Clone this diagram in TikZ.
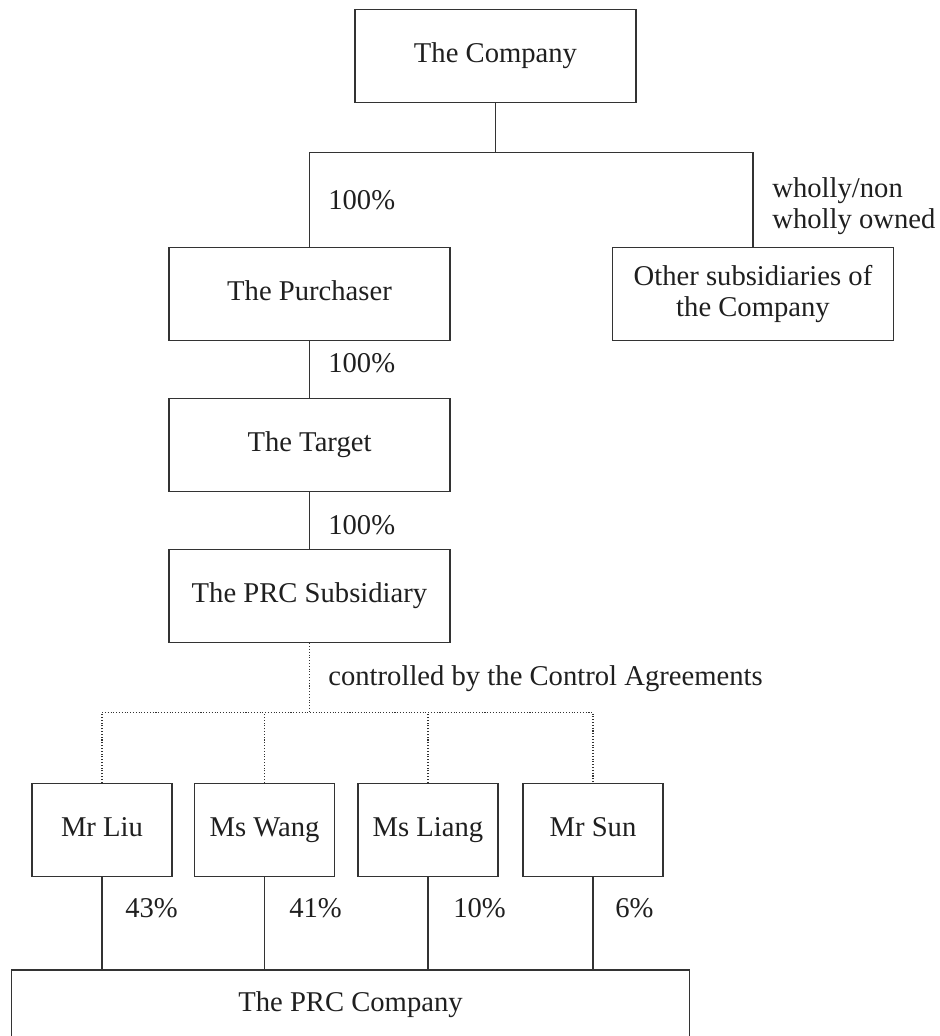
\documentclass[tikz,border=0pt]{standalone}
\usepackage{fontspec}
\setmainfont{Liberation Serif}

\tikzset{
	entity/.style={draw=black!80,line width=0.6pt,inner sep=0pt,minimum width=5.62cm,minimum height=1.87cm,align=center,text=black!88,text height=0.9em,text depth=0.2em},
	person/.style={entity,minimum width=2.8cm},
	share/.style={anchor=base west,inner sep=0pt,text=black!88},
	link/.style={draw=black!80,line width=0.6pt},
	ctrl/.style={draw=black!80,line width=0.6pt,dash pattern=on 0.6pt off 1pt}
}

\begin{document}
\begin{tikzpicture}[line cap=butt,line join=miter,x=1.0cm,y=1.0cm,font=\fontsize{16.3}{17.5}\selectfont]
				\clip (0,0) rectangle (18.8,20.72);
				\node[entity] (company) at (9.91,19.6) {The Company};
				\node[entity] (purchaser) at (6.19,14.84) {The Purchaser};
				\node[entity,text height={},text depth={}] (other) at (15.06,14.84) {Other subsidiaries of\\the Company};
				\node[entity] (target) at (6.19,11.82) {The Target};
				\node[entity] (prcsub) at (6.19,8.8) {The PRC Subsidiary};
				\node[person] (liu) at (2.04,4.12) {Mr Liu};
				\node[person] (wang) at (5.29,4.12) {Ms Wang};
				\node[person] (liang) at (8.56,4.12) {Ms Liang};
				\node[person] (sun) at (11.86,4.12) {Mr Sun};
				\node[entity,minimum width=13.55cm,minimum height=1.4cm] (prcco) at (7.01,0.62) {The PRC Company};
				\coordinate (split) at (9.91,17.67);
				\coordinate (ctrlsplit) at (6.19,6.47);
				\draw [link] (company.south) -- (split);
				\draw [link] (purchaser.north) |- (split) -| (other.north);
				\draw [link] (purchaser.south) -- (target.north);
				\draw [link] (target.south) -- (prcsub.north);
				\draw [ctrl] (prcsub.south) -- (ctrlsplit);
				\draw [ctrl] (liu.north) |- (ctrlsplit) -| (sun.north);
				\foreach \p in {wang,liang}
					\draw [ctrl] (\p.north) -- (\p.north |- ctrlsplit);
				\foreach \p in {liu,wang,liang,sun}
					\draw [link] (\p.south) -- (\p.south |- prcco.north);
				\node[share] (pc1) at (6.56,16.53) {100\%};
				\node[share,anchor=west,align=left] (po1) at (15.44,16.6) {wholly/non\\wholly owned};
				\node[share] (pc2) at (6.56,13.27) {100\%};
				\node[share] (pc3) at (6.56,10.02) {100\%};
				\node[share] (pctrl) at (6.56,7.0) {controlled by the Control Agreements};
				\node[share] (pliu) at (2.5,2.37) {43\%};
				\node[share] (pwang) at (5.78,2.37) {41\%};
				\node[share] (pliang) at (9.06,2.37) {10\%};
				\node[share] (psun) at (12.3,2.37) {6\%};
			\end{tikzpicture}
\end{document}
